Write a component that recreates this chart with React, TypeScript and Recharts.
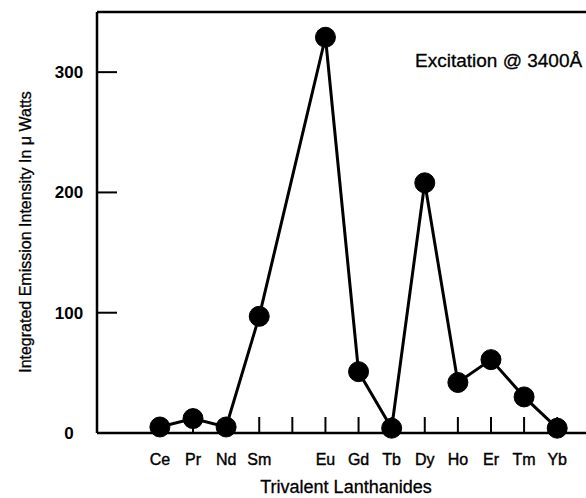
import React from 'react';
import { LineChart, Line, XAxis, YAxis, ReferenceLine } from 'recharts';

// blank slot between Sm and Eu has a tick but no point
const elements = ['Ce', 'Pr', 'Nd', 'Sm', '', 'Eu', 'Gd', 'Tb', 'Dy', 'Ho', 'Er', 'Tm', 'Yb'];
const intensity = [5, 12, 5, 97, null, 329, 51, 4, 208, 42, 61, 30, 4];
const yTicks = [0, 100, 200, 300];

const data = elements.map((name, i) => ({ pos: i, name, value: intensity[i] }));

const FONT = '"Liberation Sans", Arial, Helvetica, sans-serif';

const XTick = ({ x, y, payload }: any) => (
  <g>
    <line x1={x} x2={x} y1={y} y2={y - 16} stroke="#000" strokeWidth={2} />
    <text
      x={x}
      y={y + 32}
      textAnchor="middle"
      fontSize={16}
      fontFamily={FONT}
      fill="#000"
      stroke="#000"
      strokeWidth={0.4}
    >
      {elements[payload.value]}
    </text>
  </g>
);

const YTick = ({ x, y, payload }: any) => (
  <g>
    {payload.value > 0 && <line x1={x} x2={x + 20} y1={y} y2={y} stroke="#000" strokeWidth={2} />}
    <text x={69} y={y + 6} textAnchor="middle" fontSize={17} fontWeight="bold" fontFamily={FONT} fill="#000">
      {payload.value}
    </text>
  </g>
);

const YLabel = () => (
  <text
    x={31}
    y={232}
    transform="rotate(-90, 31, 232)"
    textAnchor="middle"
    fontSize={16}
    fontFamily={FONT}
    fill="#000"
    stroke="#000"
    strokeWidth={0.3}
  >
    Integrated Emission Intensity In μ Watts
  </text>
);

const XLabel = () => (
  <text
    x={346}
    y={493}
    textAnchor="middle"
    fontSize={18}
    fontFamily={FONT}
    fill="#000"
    stroke="#000"
    strokeWidth={0.3}
  >
    Trivalent Lanthanides
  </text>
);

const Note = () => (
  <text x={415} y={67} fontSize={19} fontFamily={FONT} fill="#000" stroke="#000" strokeWidth={0.3}>
    Excitation @ 3400Å
  </text>
);

export default function App() {
  return (
    <div style={{ position: 'absolute', left: 0, top: 0, background: '#fff' }}>
      <LineChart width={586} height={498} data={data} margin={{ top: 12, right: 0, bottom: 0, left: 0 }}>
        <XAxis
          dataKey="pos"
          type="number"
          domain={[-1.9, 12.87]}
          ticks={elements.map((_, i) => i)}
          interval={0}
          allowDataOverflow
          height={65}
          tickSize={0}
          tickMargin={0}
          tickLine={false}
          tick={<XTick />}
          axisLine={{ stroke: '#000', strokeWidth: 2.5 }}
          label={<XLabel />}
        />
        <YAxis
          type="number"
          domain={[0, 350]}
          ticks={yTicks}
          width={97}
          tickSize={0}
          tickMargin={0}
          tickLine={false}
          tick={<YTick />}
          axisLine={{ stroke: '#000', strokeWidth: 2.5 }}
          label={<YLabel />}
        />
        <ReferenceLine y={350} stroke="#000" strokeWidth={2.5} label={<Note />} />
        <Line
          type="linear"
          dataKey="value"
          stroke="#000"
          strokeWidth={3}
          dot={{ r: 10, fill: '#000', stroke: '#000', strokeWidth: 1 }}
          connectNulls
          isAnimationActive={false}
        />
      </LineChart>
    </div>
  );
}
